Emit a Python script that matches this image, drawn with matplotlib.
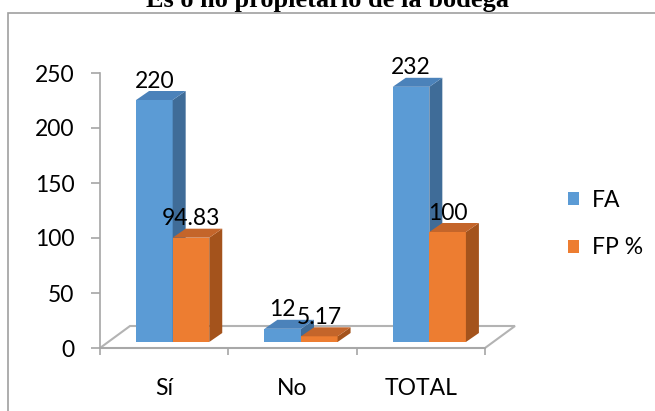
import numpy as np
import matplotlib
matplotlib.use("Agg")
import matplotlib.pyplot as plt
from matplotlib.patches import Polygon, Patch, Rectangle

title = "Es o no propietario de la bodega"
categories = ["Sí", "No", "TOTAL"]
fa = [220, 12, 232]
fp = [94.83, 5.17, 100]
series_names = ["FA", "FP %"]
yticks = [0, 50, 100, 150, 200, 250]

plt.rcParams["font.family"] = ["Lato", "DejaVu Sans"]

FRONT = ["#5b9bd5", "#ed7d31"]
SIDE = ["#3f6c98", "#a4531c"]
TOP = ["#4b82ba", "#c4652a"]
GRAY = "#a6a6a6"
FS = 16.5

fig = plt.figure(figsize=(6.55, 4.11), dpi=100)
ax = fig.add_axes([100 / 655, 63 / 411, 385 / 655, 275 / 411])
ax.set_xlim(0, len(categories))
ax.set_ylim(0, yticks[-1])


def px(dx, dy):
    # pixel offset -> data offset (for the fake 3D depth)
    o = ax.transData.transform((0, 0))
    a = ax.transData.inverted().transform(o + np.array([dx, dy]))
    return a[0], a[1]


floor_dx, floor_dy = px(30, 22)
shift_x, shift_y = px(8.5, 6)
dep_x, dep_y = px(13, 9)
w = 0.285
n = len(categories)

# floor
ax.add_patch(Polygon([(0, 0), (n, 0), (n + floor_dx, floor_dy), (floor_dx, floor_dy)],
                     closed=True, facecolor="white", edgecolor="#b3b3b3", lw=1.5,
                     clip_on=False, zorder=1))

for s, vals in enumerate([fa, fp]):
    x0 = np.arange(n) + 0.5 - w + s * w + shift_x
    ax.bar(x0, vals, width=w, bottom=shift_y, align="edge", color=FRONT[s],
           zorder=3 + s, clip_on=False)
    for xi, v in zip(x0, vals):
        top = v + shift_y
        x1 = xi + w
        ax.add_patch(Polygon([(x1, shift_y), (x1 + dep_x, shift_y + dep_y),
                              (x1 + dep_x, top + dep_y), (x1, top)],
                             facecolor=SIDE[s], lw=0, zorder=3 + s, clip_on=False))
        ax.add_patch(Polygon([(xi, top), (x1, top), (x1 + dep_x, top + dep_y),
                              (xi + dep_x, top + dep_y)],
                             facecolor=TOP[s], lw=0, zorder=3 + s, clip_on=False))
        ax.annotate(f"{v:g}", (xi + w / 2, top), xytext=(0, 9), textcoords="offset points",
                    ha="center", va="baseline", fontsize=FS, zorder=10,
                    annotation_clip=False)

for side in ["top", "right"]:
    ax.spines[side].set_visible(False)
for side in ["left", "bottom"]:
    ax.spines[side].set_color(GRAY)
    ax.spines[side].set_linewidth(1.2)
ax.set_facecolor("none")

ax.set_yticks(yticks)
ax.tick_params(axis="y", length=6.5, width=1.2, color=GRAY, labelsize=FS, pad=12)
ax.set_xticks(np.arange(n) + 0.5)
ax.set_xticklabels(categories)
ax.set_xticks(np.arange(n + 1), minor=True)
ax.tick_params(axis="x", which="major", length=0, labelsize=FS, pad=21.5)
ax.tick_params(axis="x", which="minor", length=5, width=1.2, color=GRAY)

handles = [Patch(facecolor=c) for c in FRONT]
ax.legend(handles, series_names, loc="upper left", bbox_to_anchor=(568 / 655, 1 - 190 / 411),
          bbox_transform=fig.transFigure, frameon=False, fontsize=FS,
          handlelength=0.5, handleheight=0.5, handletextpad=0.55, labelspacing=1.15,
          borderpad=0, borderaxespad=0)

fig.patches.append(Rectangle((8 / 655, -0.1), 1.1, 1 - 13 / 411 + 0.1, transform=fig.transFigure,
                             fill=False, edgecolor="#a0a0a0", lw=1.2))
fig.text(0.5, 1 - 7 / 411, title, ha="center", va="baseline", fontsize=19,
         fontweight="bold", family="Liberation Serif")

fig.savefig("out.png", dpi=100)
